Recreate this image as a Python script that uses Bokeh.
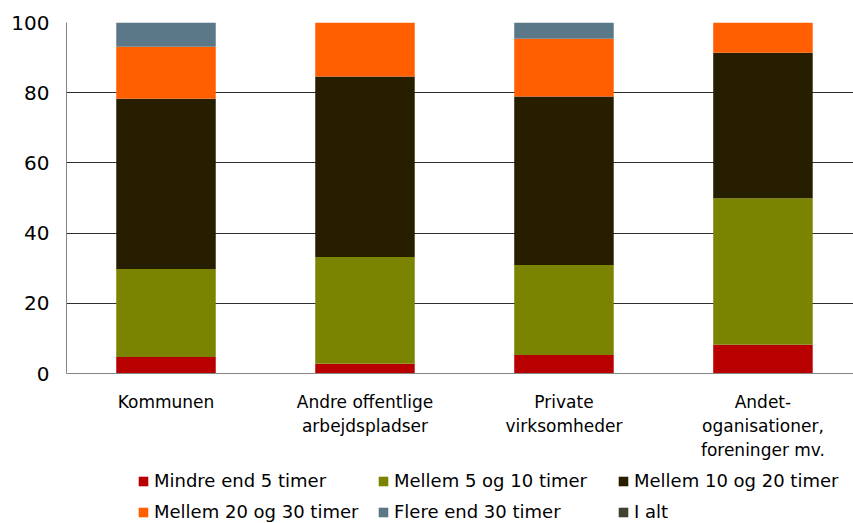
from bokeh.plotting import figure
from bokeh.models import (ColumnDataSource, Range1d, FixedTicker, Legend, LegendItem)
from bokeh.layouts import column
from bokeh.embed import file_html
from bokeh.resources import INLINE

categories = ["Kommunen", "Andre offentlige\narbejdspladser", "Private\nvirksomheder",
              "Andet-\noganisationer,\nforeninger mv."]
series_names = ["Mindre end 5 timer", "Mellem 5 og 10 timer", "Mellem 10 og 20 timer",
                "Mellem 20 og 30 timer", "Flere end 30 timer", "I alt"]
mindre_5 = [4.7, 2.8, 5.3, 8.2]
mellem_5_10 = [25.1, 30.4, 25.6, 41.7]
mellem_10_20 = [48.5, 51.4, 48.0, 41.5]
mellem_20_30 = [14.8, 15.4, 16.5, 8.6]
flere_30 = [6.9, 0.0, 4.6, 0.0]
y_ticks = [0, 20, 40, 60, 80, 100]

colors = ["#b80000", "#7a8400", "#271e00", "#ff5f00", "#5b7888", "#404131"]
FONT = "DejaVu Sans"

xs = list(range(len(categories)))
i_alt = [a + b + c + d + e for a, b, c, d, e in
         zip(mindre_5, mellem_5_10, mellem_10_20, mellem_20_30, flere_30)]
src = ColumnDataSource(dict(x=xs, s0=mindre_5, s1=mellem_5_10, s2=mellem_10_20,
                            s3=mellem_20_30, s4=flere_30, total=i_alt))
stack_cols = ["s0", "s1", "s2", "s3", "s4"]

p = figure(width=853, height=462, output_backend="svg", toolbar_location=None,
           x_range=Range1d(-0.5, 3.455), y_range=Range1d(0, 100))
p.min_border_left = 66
p.min_border_right = 0
p.min_border_top = 22
p.min_border_bottom = 88
p.outline_line_color = None
p.background_fill_color = "white"
p.border_fill_color = "white"

rs = p.vbar_stack(stack_cols, x="x", width=0.5, source=src,
                  color=colors[:5], line_color=None)

# axes
p.xaxis.ticker = FixedTicker(ticks=xs)
p.xaxis.major_label_overrides = {i: c for i, c in enumerate(categories)}
p.xaxis.major_label_text_font = FONT
p.xaxis.major_label_text_font_size = "17px"
p.xaxis.major_label_text_color = "black"
p.xaxis.major_label_text_line_height = 1.2
p.xaxis.major_tick_line_color = None
p.xaxis.minor_tick_line_color = None
p.xaxis.major_tick_out = 0
p.xaxis.major_tick_in = 0
p.xaxis.major_label_standoff = 18
p.xaxis.axis_line_color = "#858585"

p.yaxis.ticker = FixedTicker(ticks=y_ticks)
p.yaxis.major_label_text_font = FONT
p.yaxis.major_label_text_font_size = "20px"
p.yaxis.major_label_text_color = "black"
p.yaxis.major_tick_line_color = None
p.yaxis.minor_tick_line_color = None
p.yaxis.major_tick_out = 0
p.yaxis.major_tick_in = 0
p.yaxis.major_label_standoff = 17
p.yaxis.axis_line_color = "#858585"

p.xgrid.grid_line_color = None
p.ygrid.grid_line_color = "#2e2e2e"
p.ygrid.grid_line_width = 1
p.ygrid.ticker = FixedTicker(ticks=y_ticks)

# legend strip below the chart (its own zero-width renderers carry the legend swatches)
pl = figure(width=853, height=61, output_backend="svg", toolbar_location=None,
            x_range=Range1d(-0.5, 3.455), y_range=Range1d(-2000, -1000),
            x_axis_type=None, y_axis_type=None)
pl.min_border_left = 66
pl.min_border_right = 0
pl.min_border_top = 0
pl.min_border_bottom = 0
pl.outline_line_color = None
pl.xgrid.visible = False
pl.ygrid.visible = False
leg_renderers = list(pl.vbar_stack(stack_cols, x="x", width=0, source=src,
                                   color=colors[:5], line_color=None))
leg_renderers.append(pl.vbar(x="x", top="total", width=0, source=src,
                             color=colors[5], line_color=None))

cols = [(0, 3), (1, 4), (2, 5)]
xpos = [71, 311, 551]
for (a, b), xp in zip(cols, xpos):
    lg = Legend(items=[LegendItem(label=series_names[a], renderers=[leg_renderers[a]]),
                       LegendItem(label=series_names[b], renderers=[leg_renderers[b]])],
                location=(xp, 1), orientation="vertical",
                glyph_width=12, glyph_height=12, label_height=18, label_standoff=5,
                spacing=10, padding=0, margin=0,
                label_text_font=FONT, label_text_font_size="18px",
                label_text_color="black",
                border_line_color=None, background_fill_color=None)
    pl.add_layout(lg)

layout = column(p, pl, spacing=0)
open("out.html", "w").write(file_html(layout, INLINE))
